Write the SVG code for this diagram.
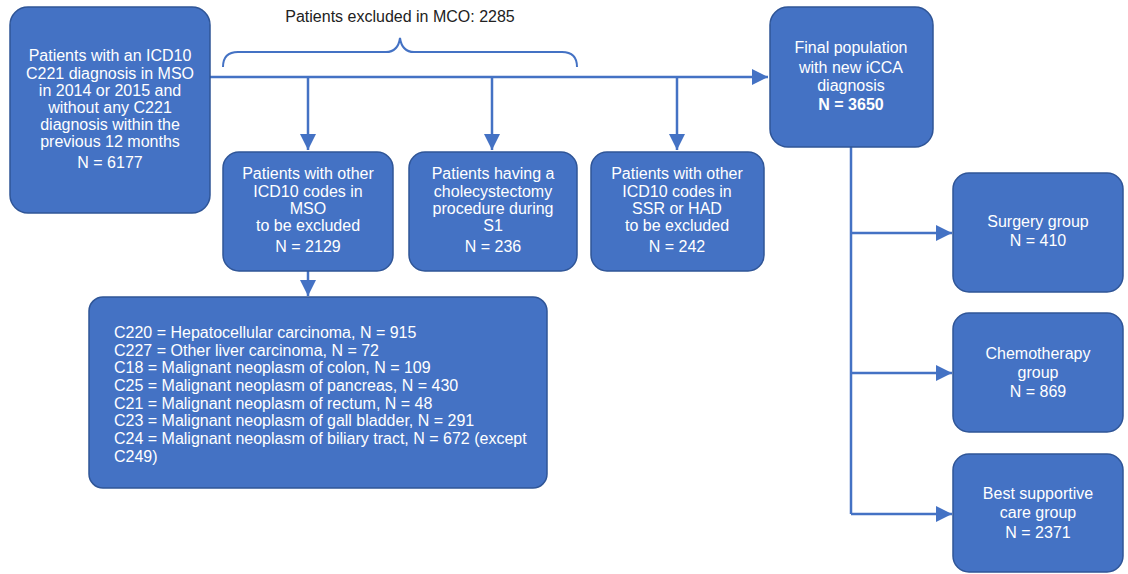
<svg xmlns="http://www.w3.org/2000/svg" width="1128" height="574" viewBox="0 0 1128 574">
<defs>
<style>
.box{fill:#4472C4;stroke:#2F5597;stroke-width:1.5}
.t{font-family:"Liberation Sans",Arial,sans-serif;font-size:16px;fill:#ffffff;text-anchor:middle}
.tl{font-family:"Liberation Sans",Arial,sans-serif;font-size:16px;fill:#ffffff}
.ln{fill:none;stroke:#4472C4;stroke-width:2.5}
.br{fill:none;stroke:#4472C4;stroke-width:2}
</style>
<marker id="ah" viewBox="0 0 10 10" refX="10" refY="5" markerWidth="6.5" markerHeight="6.5" markerUnits="strokeWidth" orient="auto">
<path d="M0,0 L10,5 L0,10 z" fill="#4472C4"/>
</marker>
</defs>
<rect width="1128" height="574" fill="#ffffff"/>
<text x="400" y="22" font-family="Liberation Sans, Arial, sans-serif" font-size="16" fill="#222" text-anchor="middle">Patients excluded in MCO: 2285</text>
<g id="connectors">
<path class="br" d="M223,67 Q223,52 238,52 L386,52 Q398,52 400,38 Q402,52 414,52 L562,52 Q577,52 577,67"/>
<path class="ln" d="M210,77 L768,77" marker-end="url(#ah)"/>
<path class="ln" d="M308,77 L308,150" marker-end="url(#ah)"/>
<path class="ln" d="M492,77 L492,150" marker-end="url(#ah)"/>
<path class="ln" d="M677,77 L677,150" marker-end="url(#ah)"/>
<path class="ln" d="M308,271 L308,296" marker-end="url(#ah)"/>
<path class="ln" d="M851,147 L851,514"/>
<path class="ln" d="M851,233 L952,233" marker-end="url(#ah)"/>
<path class="ln" d="M851,373 L952,373" marker-end="url(#ah)"/>
<path class="ln" d="M851,514 L952,514" marker-end="url(#ah)"/>
</g>
<g id="start">
<rect class="box" x="10" y="7" width="200" height="206" rx="18"/>
<text class="t" x="110" y="61">Patients with an ICD10</text>
<text class="t" x="110" y="79">C221 diagnosis in MSO</text>
<text class="t" x="110" y="96">in 2014 or 2015 and</text>
<text class="t" x="110" y="113">without any C221</text>
<text class="t" x="110" y="130">diagnosis within the</text>
<text class="t" x="110" y="147">previous 12 months</text>
<text class="t" x="110" y="168">N = 6177</text>
</g>
<g id="icd-mso">
<rect class="box" x="223" y="152" width="170" height="119" rx="16"/>
<text class="t" x="308" y="179">Patients with other</text>
<text class="t" x="308" y="197">ICD10 codes in</text>
<text class="t" x="308" y="214">MSO</text>
<text class="t" x="308" y="231">to be excluded</text>
<text class="t" x="308" y="252">N = 2129</text>
</g>
<g id="cholecystectomy">
<rect class="box" x="409" y="152" width="168" height="119" rx="16"/>
<text class="t" x="493" y="179">Patients having a</text>
<text class="t" x="493" y="197">cholecystectomy</text>
<text class="t" x="493" y="214">procedure during</text>
<text class="t" x="493" y="231">S1</text>
<text class="t" x="493" y="252">N = 236</text>
</g>
<g id="icd-ssr">
<rect class="box" x="591" y="152" width="173" height="119" rx="16"/>
<text class="t" x="677" y="179">Patients with other</text>
<text class="t" x="677" y="197">ICD10 codes in</text>
<text class="t" x="677" y="214">SSR or HAD</text>
<text class="t" x="677" y="231">to be excluded</text>
<text class="t" x="677" y="252">N = 242</text>
</g>
<g id="final">
<rect class="box" x="770" y="7" width="163" height="140" rx="18"/>
<text class="t" x="851" y="53">Final population</text>
<text class="t" x="851" y="73">with new iCCA</text>
<text class="t" x="851" y="91">diagnosis</text>
<text class="t" x="851" y="110" font-weight="bold">N = 3650</text>
</g>
<g id="details">
<rect class="box" x="89" y="297" width="458" height="191" rx="14"/>
<text class="tl" x="114" y="338">C220 = Hepatocellular carcinoma, N = 915</text>
<text class="tl" x="114" y="356">C227 = Other liver carcinoma, N = 72</text>
<text class="tl" x="114" y="373">C18 = Malignant neoplasm of colon, N = 109</text>
<text class="tl" x="114" y="391">C25 = Malignant neoplasm of pancreas, N = 430</text>
<text class="tl" x="114" y="409">C21 = Malignant neoplasm of rectum, N = 48</text>
<text class="tl" x="114" y="426">C23 = Malignant neoplasm of gall bladder, N = 291</text>
<text class="tl" x="114" y="444">C24 = Malignant neoplasm of biliary tract, N = 672 (except</text>
<text class="tl" x="114" y="462">C249)</text>
</g>
<g id="surgery">
<rect class="box" x="953" y="173" width="170" height="119" rx="16"/>
<text class="t" x="1038" y="227">Surgery group</text>
<text class="t" x="1038" y="246">N = 410</text>
</g>
<g id="chemo">
<rect class="box" x="953" y="313" width="170" height="119" rx="16"/>
<text class="t" x="1038" y="359">Chemotherapy</text>
<text class="t" x="1038" y="378">group</text>
<text class="t" x="1038" y="397">N = 869</text>
</g>
<g id="bsc">
<rect class="box" x="953" y="454" width="170" height="118" rx="16"/>
<text class="t" x="1038" y="499">Best supportive</text>
<text class="t" x="1038" y="518">care group</text>
<text class="t" x="1038" y="538">N = 2371</text>
</g>
</svg>
